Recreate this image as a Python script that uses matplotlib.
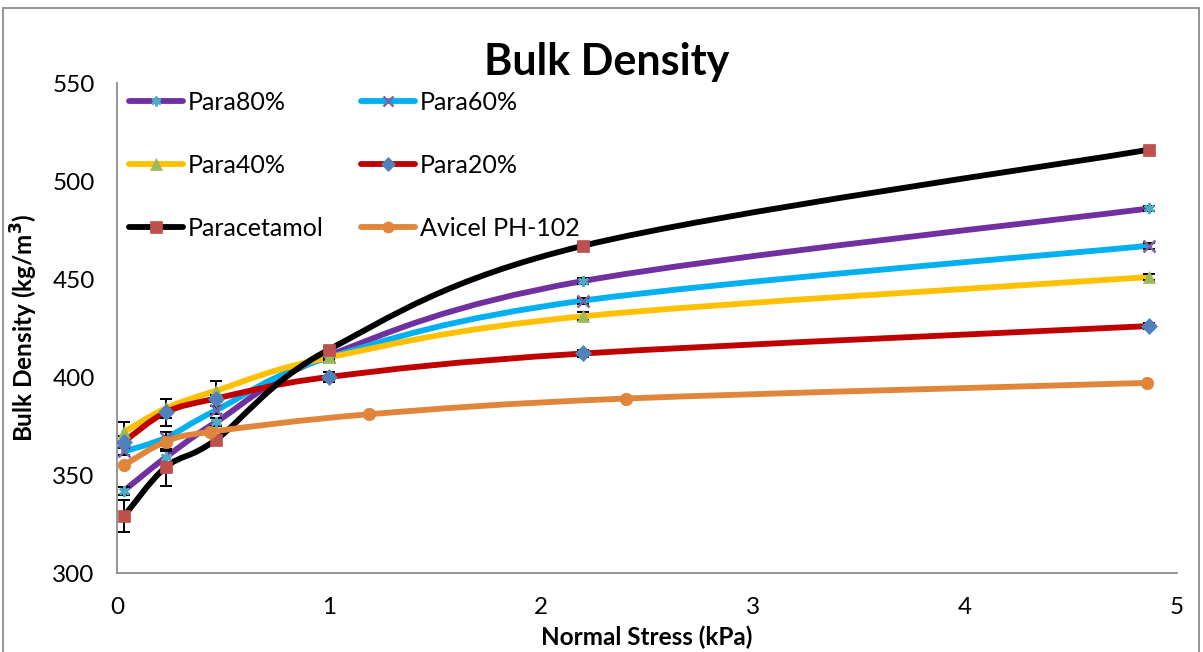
import numpy as np
import matplotlib
matplotlib.use("Agg")
import matplotlib.pyplot as plt
from matplotlib.path import Path
from matplotlib.patches import PathPatch, Rectangle
from matplotlib.lines import Line2D

plt.rcParams["font.family"] = ["Lato", "DejaVu Sans"]

# Bulk density (kg/m^3) vs normal stress (kPa), mean and error per point
x_para = [0.033, 0.23, 0.467, 1.0, 2.2, 4.87]
x_avicel = [0.033, 0.23, 0.44, 1.19, 2.40, 4.86]

para80 = [342, 359, 377, 411, 449, 486]
para80_err = [2, 3, 2, 1.5, 1.5, 1.5]
para60 = [362, 369, 383, 410, 439, 467]
para60_err = [2, 3, 2, 1.5, 1.5, 1.5]
para40 = [372, 384, 393, 410, 431, 451]
para40_err = [5, 5, 5, 1.5, 2, 1.5]
para20 = [367, 382, 389, 400, 412, 426]
para20_err = [3, 7, 2, 2.5, 2, 1.5]
paracetamol = [329, 354, 368, 414, 467, 516]
paracetamol_err = [8, 9.5, 2, 1.5, 1.5, 1.5]
avicel = [355, 367, 372, 381, 389, 397]

series = [
    ("Para80%", x_para, para80, para80_err, "#7030A0", (6, 2, 0), "#4BACC6"),
    ("Para60%", x_para, para60, para60_err, "#00B0F0", "x", "#8064A2"),
    ("Para40%", x_para, para40, para40_err, "#FFC000", "^", "#9BBB59"),
    ("Para20%", x_para, para20, para20_err, "#C00000", "D", "#4F81BD"),
    ("Paracetamol", x_para, paracetamol, paracetamol_err, "#000000", "s", "#C0504D"),
    ("Avicel PH-102", x_avicel, avicel, None, "#E0853A", "o", "#E0853A"),
]


def smooth_path(xs, ys):
    """Excel-style smoothed line: cubic Bezier segments through every point."""
    pts = np.column_stack([xs, ys]).astype(float)
    n = len(pts)
    verts = [pts[0]]
    codes = [Path.MOVETO]
    for i in range(n - 1):
        p_prev = pts[max(i - 1, 0)]
        p0, p1 = pts[i], pts[i + 1]
        p_next = pts[min(i + 2, n - 1)]
        c1 = p0 + (p1 - p_prev) / 6.0
        c2 = p1 - (p_next - p0) / 6.0
        verts += [c1, c2, p1]
        codes += [Path.CURVE4] * 3
    return Path(verts, codes)


fig = plt.figure(figsize=(12.03, 6.52), dpi=100)
ax = fig.add_axes([117 / 1203, 1 - 573 / 652, 1060 / 1203, 490 / 652])

handles = []
for label, xs, ys, err, lc, mk, mc in series:
    ax.add_patch(PathPatch(smooth_path(xs, ys), facecolor="none", edgecolor=lc,
                           lw=4.2, capstyle="round", joinstyle="round", zorder=2))
    if err is not None:
        ax.errorbar(xs, ys, yerr=err, fmt="none", ecolor="black", elinewidth=1.4,
                    capsize=4.5, capthick=1.4, zorder=3)
    ms = 9 if mk in ("s", "^", "o") else 8
    mew = 1.8 if mk in ("x", (6, 2, 0)) else 0.5
    ax.plot(xs, ys, linestyle="none", marker=mk, markersize=ms, color=mc,
            markeredgecolor=mc, markeredgewidth=mew, zorder=4)
    handles.append(Line2D([], [], color=lc, lw=4.2, marker=mk, markersize=ms - 1,
                          markerfacecolor=mc, markeredgecolor=mc,
                          markeredgewidth=mew, solid_capstyle="round", label=label))

ax.set_xlim(0, 5)
ax.set_ylim(300, 550)
ax.set_xticks(range(0, 6))
ax.set_yticks(range(300, 551, 50))
ax.tick_params(axis="y", length=0, labelsize=17.5, pad=16)
ax.tick_params(axis="x", length=0, labelsize=17.5, pad=17)
for side in ("top", "right"):
    ax.spines[side].set_visible(False)
for side in ("left", "bottom"):
    ax.spines[side].set_color("#8C8C8C")
    ax.spines[side].set_linewidth(1.3)

fig.text(607 / 1203, 1 - 75 / 652, "Bulk Density", fontsize=31, fontweight="bold",
         ha="center", va="baseline")
ax.set_xlabel("Normal Stress (kPa)", fontsize=17.5, fontweight="bold", labelpad=6)
ax.set_ylabel("Bulk Density (kg/m$^{\\mathbf{3}}$)", fontsize=17.5, fontweight="bold", labelpad=9)

# legend fills row by row: Para80/Para60, Para40/Para20, Paracetamol/Avicel
order = [0, 2, 4, 1, 3, 5]
ax.legend(handles=[handles[i] for i in order], ncol=2, loc="upper left",
          bbox_to_anchor=(12 / 1060, 1 - 8 / 490), frameon=False,
          fontsize=18, handlelength=2.15, handletextpad=0.2,
          labelspacing=1.6, columnspacing=1.5, borderpad=0, borderaxespad=0)

# thin outer frame around the whole chart
fig.add_artist(Rectangle((3 / 1203, -0.05), 1196 / 1203, 1.05 - 8 / 652,
                         transform=fig.transFigure, fill=False,
                         edgecolor="#8C8C8C", lw=1.3))

fig.savefig("out.png", dpi=100)
